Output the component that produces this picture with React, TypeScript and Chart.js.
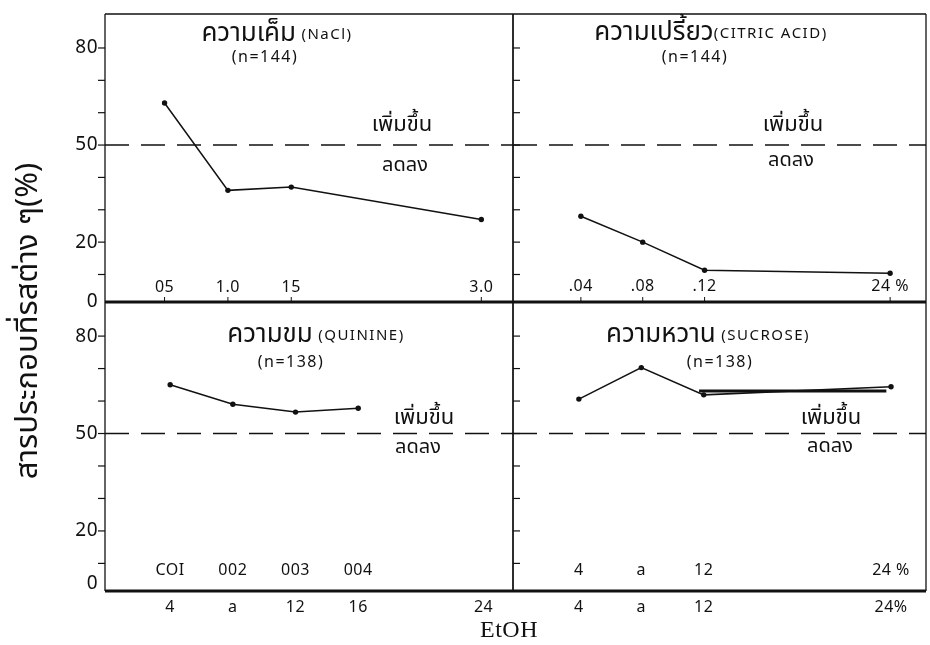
import React, { useEffect, useRef } from 'react';
import { Chart, registerables } from 'chart.js';

Chart.register(...registerables);

const W = 930;
const H = 645;

// ---- data ----
const naclConc = [0.5, 1.0, 1.5, 3.0];
const naclPct = [63, 36, 37, 27];
const citricConc = [0.04, 0.08, 0.12, 0.24];
const citricPct = [28, 20, 11.3, 10.4];
const quinineConc = [0.001, 0.002, 0.003, 0.004];
const quininePct = [65, 59, 56.6, 57.8];
const sucroseConc = [4, 8, 12, 24];
const sucrosePct = [60.6, 70.3, 61.9, 64.4];
const sucroseOverlayConc = [11.7, 23.7];
const sucroseOverlayPct = [63.1, 63.1];

// ---- tick labels ----
const yTickValues = [10, 20, 30, 40, 50, 60, 70, 80];
const yLabelValues = [0, 20, 50, 80];
const yLabelTexts = ['0', '20', '50', '80'];
const dividePct = 50;
const naclTickLabels = ['05', '1.0', '15', '3.0'];
const citricTickLabels = ['.04', '.08', '.12', '24 %'];
const quinineTickLabels = ['COI', '002', '003', '004'];
const sucroseTickLabels = ['4', 'a', '12', '24 %'];
const etohLeftValues = [4, 8, 12, 16, 24];
const etohLeftLabels = ['4', 'a', '12', '16', '24'];
const etohRightValues = [4, 8, 12, 24];
const etohRightLabels = ['4', 'a', '12', '24%'];

const upText = 'เพิ่มขึ้น';
const downText = 'ลดลง';
const yTitle = 'สารประกอบที่รสต่าง ๆ(%)';
const xTitle = 'EtOH';

const SANS = '"Noto Sans", "Noto Sans Thai", "DejaVu Sans", sans-serif';
const INK = '#111';

type Panel = {
  id: string;
  area: { l: number; t: number; r: number; b: number };
  xMin: number;
  xMax: number;
  xs: number[];
  ys: number[];
  tickLabels: string[];
  innerOffset: number;
  title: [string, string];
  titlePos: [number, number];
  n: string;
  nPos: [number, number];
  upPos: [number, number];
  downPos: [number, number];
  side: 'left' | 'right';
  extra?: { xs: number[]; ys: number[] };
  bottom?: { values: number[]; labels: string[]; min: number; max: number };
  globalText?: boolean;
};

const panels: Panel[] = [
  {
    id: 'tl',
    area: { l: 105, t: 14, r: 513, b: 302 },
    xMin: 0.03,
    xMax: 3.25,
    xs: naclConc,
    ys: naclPct,
    tickLabels: naclTickLabels,
    innerOffset: 15,
    title: ['ความเค็ม', ' (NaCl)'],
    titlePos: [172, 20],
    n: '(n=144)',
    nPos: [160, 43],
    upPos: [297, 111],
    downPos: [300, 151],
    side: 'left',
    globalText: true,
  },
  {
    id: 'tr',
    area: { l: 513, t: 14, r: 927, b: 302 },
    xMin: -0.0039,
    xMax: 0.2632,
    xs: citricConc,
    ys: citricPct,
    tickLabels: citricTickLabels,
    innerOffset: 16,
    title: ['ความเปรี้ยว', '(CITRIC ACID)'],
    titlePos: [198, 19],
    n: '(n=144)',
    nPos: [182, 43],
    upPos: [280, 111],
    downPos: [278, 146],
    side: 'right',
  },
  {
    id: 'bl',
    area: { l: 105, t: 302, r: 513, b: 591 },
    xMin: -0.00004,
    xMax: 0.00647,
    xs: quinineConc,
    ys: quininePct,
    tickLabels: quinineTickLabels,
    innerOffset: 21,
    title: ['ความขม', ' (QUININE)'],
    titlePos: [211, 33],
    n: '(n=138)',
    nPos: [186, 60],
    upPos: [319, 116],
    downPos: [313, 145],
    side: 'left',
    bottom: { values: etohLeftValues, labels: etohLeftLabels, min: -0.16, max: 25.88 },
  },
  {
    id: 'br',
    area: { l: 513, t: 302, r: 927, b: 591 },
    xMin: -0.22,
    xMax: 26.24,
    xs: sucroseConc,
    ys: sucrosePct,
    tickLabels: sucroseTickLabels,
    innerOffset: 21,
    title: ['ความหวาน', ' (SUCROSE)'],
    titlePos: [195, 33],
    n: '(n=138)',
    nPos: [207, 60],
    upPos: [318, 116],
    downPos: [317, 144],
    side: 'right',
    extra: { xs: sucroseOverlayConc, ys: sucroseOverlayPct },
    bottom: { values: etohRightValues, labels: etohRightLabels, min: -0.22, max: 26.24 },
  },
];

function line(ctx: CanvasRenderingContext2D, x1: number, y1: number, x2: number, y2: number, w: number) {
  ctx.lineWidth = w;
  ctx.beginPath();
  ctx.moveTo(x1, y1);
  ctx.lineTo(x2, y2);
  ctx.stroke();
}

function text(
  ctx: CanvasRenderingContext2D,
  s: string,
  x: number,
  y: number,
  font: string,
  align: CanvasTextAlign = 'center',
  spacing = 0
) {
  ctx.font = font;
  (ctx as any).letterSpacing = spacing + 'px';
  ctx.textAlign = align;
  ctx.textBaseline = 'middle';
  ctx.fillText(s, x, y);
  (ctx as any).letterSpacing = '0px';
}

function measure(ctx: CanvasRenderingContext2D, s: string, font: string, spacing = 0) {
  ctx.font = font;
  (ctx as any).letterSpacing = spacing + 'px';
  const w = ctx.measureText(s).width;
  (ctx as any).letterSpacing = '0px';
  return w;
}

function makePlugin(p: Panel) {
  return {
    id: 'decor_' + p.id,
    beforeDatasetsDraw(chart: any) {
      const ctx: CanvasRenderingContext2D = chart.ctx;
      const a = chart.chartArea;
      const ys = chart.scales.y;
      const xs = chart.scales.x;
      ctx.save();
      ctx.strokeStyle = INK;
      ctx.fillStyle = INK;
      // dashed 50% line
      const y50 = ys.getPixelForValue(dividePct);
      ctx.setLineDash([24, 12]);
      line(ctx, a.left, y50, a.right, y50, 1.5);
      ctx.setLineDash([]);
      // frame
      line(ctx, a.left, a.top, a.left, a.bottom, 1.3);
      line(ctx, a.right, a.top, a.right, a.bottom, 1.3);
      if (p.area.t < 100) line(ctx, a.left, a.top, a.right, a.top, 1.3);
      line(ctx, a.left, a.bottom, a.right, a.bottom, 3.2);
      // y ticks
      yTickValues.forEach((v) => {
        const y = ys.getPixelForValue(v);
        if (p.side === 'left') line(ctx, a.left - 7, y, a.left, y, 1.2);
        else line(ctx, a.left, y, a.left + 7, y, 1.2);
      });
      // y labels
      if (p.side === 'left') {
        yLabelValues.forEach((v, i) => {
          const y = Math.min(ys.getPixelForValue(v), a.bottom - (p.area.t > 100 ? 7 : 0));
          text(ctx, yLabelTexts[i], a.left - 7, y, `19px ${SANS}`, 'right', 0.5);
        });
      }
      // inner x tick labels and small ticks
      p.xs.forEach((v, i) => {
        const x = xs.getPixelForValue(v);
        text(ctx, p.tickLabels[i], x, a.bottom - p.innerOffset, `16px ${SANS}`, 'center', 0.5);
        if (p.area.t < 100) line(ctx, x, a.bottom - 5, x, a.bottom, 1);
      });
      // bottom EtOH labels
      if (p.bottom) {
        const ex = chart.scales.xEtoh;
        p.bottom.values.forEach((v, i) => {
          text(ctx, p.bottom!.labels[i], ex.getPixelForValue(v), a.bottom + 16, `16px ${SANS}`, 'center', 0.5);
        });
      }
      ctx.restore();
    },
    afterDatasetsDraw(chart: any) {
      const ctx: CanvasRenderingContext2D = chart.ctx;
      const a = chart.chartArea;
      ctx.save();
      ctx.fillStyle = INK;
      // title: big Thai part + smaller latin part, centered
      const bigFont = `26px ${SANS}`;
      const smallFont = `15px ${SANS}`;
      const latinSpacing = 1.5;
      const w1 = measure(ctx, p.title[0], bigFont);
      const w2 = measure(ctx, p.title[1], smallFont, latinSpacing);
      const cx = a.left + p.titlePos[0];
      const cy = a.top + p.titlePos[1];
      const x0 = cx - (w1 + w2) / 2;
      text(ctx, p.title[0], x0, cy, bigFont, 'left');
      text(ctx, p.title[1], x0 + w1, cy + 1, smallFont, 'left', latinSpacing);
      text(ctx, p.n, a.left + p.nPos[0], a.top + p.nPos[1], `16px ${SANS}`, 'center', 1.5);
      text(ctx, upText, a.left + p.upPos[0], a.top + p.upPos[1], `22px ${SANS}`, 'center');
      text(ctx, downText, a.left + p.downPos[0], a.top + p.downPos[1], `20px ${SANS}`, 'center');
      if (p.globalText) {
        ctx.save();
        ctx.translate(28, 321);
        ctx.rotate(-Math.PI / 2);
        text(ctx, yTitle, 0, 0, `31px ${SANS}`, 'center');
        ctx.restore();
        text(ctx, xTitle, 509, 631, `24px "Liberation Serif", "DejaVu Serif", serif`, 'center', 0.5);
      }
      ctx.restore();
    },
  };
}

function PanelChart({ p }: { p: Panel }) {
  const ref = useRef<HTMLCanvasElement | null>(null);
  useEffect(() => {
    if (!ref.current) return;
    const datasets: any[] = [
      {
        data: p.xs.map((x, i) => ({ x, y: p.ys[i] })),
        borderColor: INK,
        backgroundColor: INK,
        borderWidth: 1.5,
        pointRadius: 2.7,
        pointBackgroundColor: INK,
        pointBorderWidth: 0,
        tension: 0,
        clip: false,
      },
    ];
    if (p.extra) {
      datasets.push({
        data: p.extra.xs.map((x, i) => ({ x, y: p.extra!.ys[i] })),
        borderColor: INK,
        borderWidth: 3,
        pointRadius: 0,
        tension: 0,
        clip: false,
      });
    }
    const scales: any = {
      x: { type: 'linear', min: p.xMin, max: p.xMax, display: false },
      y: { type: 'linear', min: 1.5, max: 90.5, display: false },
    };
    if (p.bottom) {
      scales.xEtoh = { type: 'linear', axis: 'x', min: p.bottom.min, max: p.bottom.max, display: false };
    }
    const chart = new Chart(ref.current, {
      type: 'line',
      data: { datasets },
      options: {
        responsive: false,
        animation: false,
        devicePixelRatio: 1,
        layout: {
          padding: { left: p.area.l, top: p.area.t, right: W - p.area.r, bottom: H - p.area.b },
        },
        scales,
        plugins: { legend: { display: false }, tooltip: { enabled: false } },
      } as any,
      plugins: [makePlugin(p) as any],
    });
    return () => chart.destroy();
  }, [p]);
  return (
    <canvas
      ref={ref}
      width={W}
      height={H}
      style={{ position: 'absolute', left: 0, top: 0, width: W, height: H, pointerEvents: 'none' }}
    />
  );
}

export default function App() {
  return (
    <div style={{ position: 'absolute', left: 0, top: 0, width: W, height: H, background: '#fff', overflow: 'hidden' }}>
      {panels.map((p) => (
        <PanelChart key={p.id} p={p} />
      ))}
    </div>
  );
}
